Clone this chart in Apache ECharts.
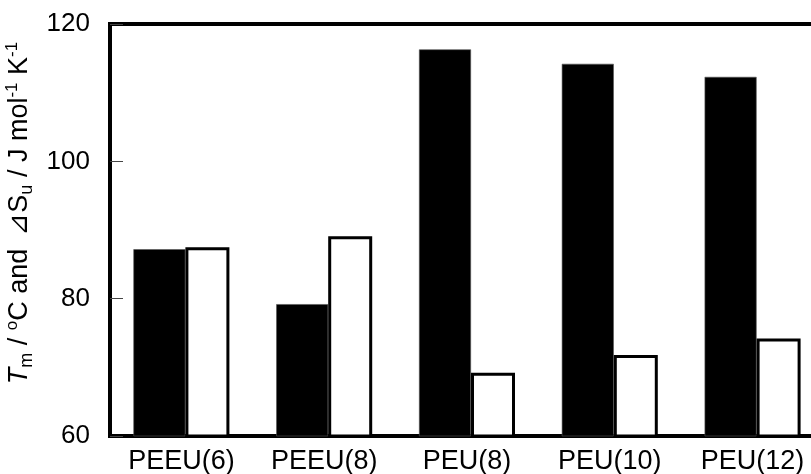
<!DOCTYPE html>
<html>
<head>
<meta charset="utf-8">
<script src="https://cdn.jsdelivr.net/npm/echarts@6/dist/echarts.min.js"></script>
<style>
html,body{margin:0;padding:0;background:#fff;}
#chart{width:811px;height:474px;}
</style>
</head>
<body>
<div id="chart"></div>
<script>
const categories = ['PEEU(6)', 'PEEU(8)', 'PEU(8)', 'PEU(10)', 'PEU(12)'];
const tmValues = [87.2, 79.2, 116.3, 114.2, 112.3];
const dsValues = [87.5, 89.1, 69.2, 71.8, 74.2];
const yMin = 60, yMax = 120, yInterval = 20;

const FONT = '"Liberation Sans", Arial, sans-serif';
const chart = echarts.init(document.getElementById('chart'), null, {renderer: 'canvas'});
chart.setOption({
  animation: false,
  backgroundColor: '#fff',
  grid: {
    left: 110, top: 24, bottom: 38, width: 714,
    outerBoundsMode: 'none',
    containLabel: false,
    show: true, borderColor: '#000', borderWidth: 4, backgroundColor: 'transparent'
  },
  xAxis: {
    type: 'category',
    data: categories,
    axisLine: {show: false},
    axisTick: {show: false},
    axisLabel: {color: '#000', fontSize: 27, fontFamily: FONT, margin: 12}
  },
  yAxis: {
    type: 'value',
    min: yMin, max: yMax, interval: yInterval,
    axisLine: {show: false},
    axisTick: {show: true, inside: true, length: 13, lineStyle: {color: '#444', width: 1}},
    splitLine: {show: false},
    axisLabel: {color: '#000', fontSize: 26, fontFamily: FONT, margin: 20},
    name: '{it|T}{sub|m}{n| / }{sup|o}{n|C and}{gap| }{n|⊿}{n|S}{sub|u}{n| / J mol}{sup|-1}{n| K}{sup|-1}',
    nameLocation: 'middle',
    nameRotate: 90,
    nameGap: 64,
    nameTextStyle: {
      color: '#000',
      fontFamily: FONT,
      fontSize: 27,
      padding: [0, 0, 0, 34],
      rich: {
        n: {fontSize: 27, fontFamily: FONT, color: '#000', lineHeight: 32},
        gap: {fontSize: 27, fontFamily: FONT, color: '#000', lineHeight: 32, width: 13},
        it: {fontSize: 27, fontFamily: FONT, fontStyle: 'italic', color: '#000', lineHeight: 32},
        sub: {fontSize: 18, fontFamily: FONT, color: '#000', lineHeight: 32, verticalAlign: 'bottom'},
        sup: {fontSize: 17, fontFamily: FONT, color: '#000', lineHeight: 32, verticalAlign: 'top'}
      }
    }
  },
  series: [
    {
      name: 'Tm',
      type: 'bar',
      data: tmValues,
      barWidth: 52,
      itemStyle: {color: '#000', borderColor: '#555', borderWidth: 0.6}
    },
    {
      name: 'dSu',
      type: 'bar',
      data: dsValues,
      barWidth: 44,
      barGap: '0%',
      itemStyle: {color: '#fff', borderColor: '#000', borderWidth: 3}
    }
  ]
});
</script>
</body>
</html>
